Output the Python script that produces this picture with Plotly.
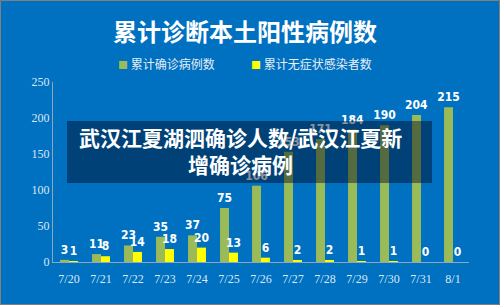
import plotly.graph_objects as go

dates = ["7/20", "7/21", "7/22", "7/23", "7/24", "7/25", "7/26", "7/27", "7/28", "7/29", "7/30", "7/31", "8/1"]
confirmed = [3, 11, 23, 35, 37, 75, 106, 153, 171, 184, 190, 204, 215]
asymptomatic = [1, 8, 14, 18, 20, 13, 6, 2, 2, 1, 1, 0, 0]

title_text = "累计诊断本土阳性病例数"
overlay_text = "武汉江夏湖泗确诊人数/武汉江夏新<br>增确诊病例"
name_confirmed = "累计确诊病例数"
name_asym = "累计无症状感染者数"
color_confirmed = "#9BBB59"
color_asym = "#FFFF00"

W, H = 500, 305
L, R, T, B = 53, 31, 82, 43
pw, ph = W - L - R, H - T - B

label_font = dict(family="DejaVu Sans Condensed, Liberation Sans Narrow, DejaVu Sans", size=12,
                  color="white", weight="bold")

fig = go.Figure()
fig.add_bar(x=dates, y=confirmed, name=name_confirmed, marker=dict(color=color_confirmed, line=dict(width=0)),
            text=confirmed, textposition="outside", textfont=label_font, cliponaxis=False,
            constraintext="none", showlegend=False)
fig.add_bar(x=dates, y=asymptomatic, name=name_asym, marker=dict(color=color_asym, line=dict(width=0)),
            text=asymptomatic, textposition="outside", textfont=label_font, cliponaxis=False,
            constraintext="none", showlegend=False)

def px_x(p):
    return (p - L) / pw

def px_y(p):
    return (H - B - p) / ph

tick_font = dict(family="Liberation Serif, Times New Roman, serif", size=12, color="#DCE8F4")

fig.update_layout(
    width=W, height=H,
    margin=dict(l=L, r=R, t=T, b=B, autoexpand=False),
    paper_bgcolor="#0070C0", plot_bgcolor="#0070C0",
    barmode="group", bargap=0.44, bargroupgap=0,
    showlegend=False,
    title=dict(text="<b>" + title_text + "</b>", x=0.49, xanchor="center", xref="container",
               y=1 - 33 / H, yanchor="middle", yref="container",
               font=dict(family="Noto Sans CJK SC", size=24, color="white")),
    xaxis=dict(showline=True, linecolor="#8FA6BF", linewidth=1, ticks="", showgrid=False,
               tickfont=tick_font, ticklabelstandoff=6),
    yaxis=dict(range=[0, 250], dtick=50, showline=True, linecolor="#8FA6BF", linewidth=1,
               showgrid=False, zeroline=False, ticks="", tickfont=tick_font),
    font=dict(family="Noto Sans CJK SC"),
)

# legend drawn as annotations
legend_items = [(name_confirmed, color_confirmed, 116), (name_asym, color_asym, 249)]
for name, col, xpix in legend_items:
    fig.add_annotation(xref="paper", yref="paper", x=px_x(xpix), y=px_y(64), xanchor="left", yanchor="middle",
                       showarrow=False,
                       text="<span style='color:%s;font-size:10px'>■</span> %s" % (col, name),
                       font=dict(family="Noto Sans CJK SC", size=12, color="#E6EEF7"))

fig.add_shape(type="rect", xref="paper", yref="paper", layer="above",
              x0=px_x(67), x1=px_x(432), y0=px_y(183), y1=px_y(121),
              fillcolor="rgba(0,10,30,0.45)", line=dict(width=0))
fig.add_annotation(xref="paper", yref="paper", x=px_x(240), y=px_y(150), xanchor="center", yanchor="middle",
                   text="<b>" + overlay_text + "</b>", showarrow=False, align="center",
                   font=dict(family="Noto Sans CJK SC", size=21, color="white"))
fig.add_shape(type="rect", xref="paper", yref="paper", layer="above",
              x0=px_x(0.5), x1=px_x(W - 0.5), y0=px_y(H - 0.5), y1=px_y(0.5),
              fillcolor="rgba(0,0,0,0)", line=dict(color="#7F7F7F", width=1))

fig.write_html("out.html")
